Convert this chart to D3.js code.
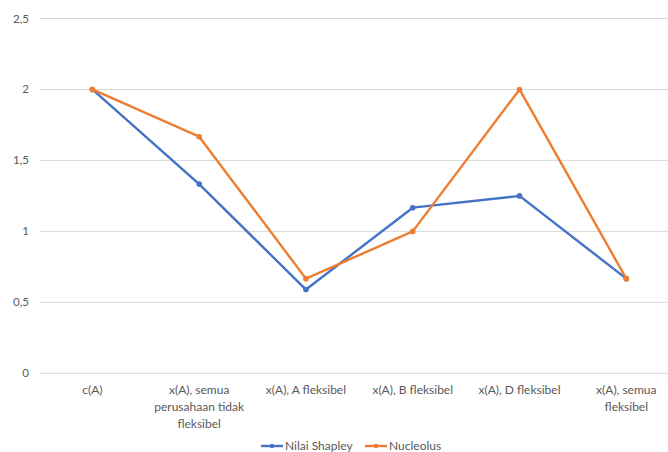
<!DOCTYPE html>
<html>
<head>
<meta charset="utf-8">
<script src="https://cdn.jsdelivr.net/npm/d3@7"></script>
<style>
  html, body { margin: 0; padding: 0; background: #fff; }
  svg { display: block; }
  text { font-family: "Lato", "Open Sans", sans-serif; fill: #595959; }
</style>
</head>
<body>
<svg id="chart" width="668" height="452"></svg>
<script>
// Categories along the x axis
const categories = [
  "c(A)",
  "x(A), semua perusahaan tidak fleksibel",
  "x(A), A fleksibel",
  "x(A), B fleksibel",
  "x(A), D fleksibel",
  "x(A), semua fleksibel"
];
// Series values
const shapley = [2, 1.333, 0.59, 1.167, 1.25, 0.667];
const nucleolus = [2, 1.667, 0.667, 1, 2, 0.667];
// Y-axis ticks
const yTicks = [0, 0.5, 1, 1.5, 2, 2.5];
const yTickLabels = ["0", "0,5", "1", "1,5", "2", "2,5"];

const series = [
  { name: "Nilai Shapley", values: shapley, color: "#4472C4" },
  { name: "Nucleolus", values: nucleolus, color: "#ED7D31" }
];

const svg = d3.select("#chart");
const W = 668, H = 452;
const plot = { left: 39, right: 679.7, top: 18.5, bottom: 373.3 };

const x = d3.scaleBand().domain(categories).range([plot.left, plot.right]);
const y = d3.scaleLinear().domain([0, 2.5]).range([plot.bottom, plot.top]);

// Horizontal gridlines
svg.append("g").selectAll("line").data(yTicks).join("line")
  .attr("x1", 40).attr("x2", W)
  .attr("y1", d => y(d)).attr("y2", d => y(d))
  .attr("stroke", "#d9d9d9").attr("stroke-width", 1);

// Y axis labels
svg.append("g").selectAll("text").data(yTicks).join("text")
  .attr("x", 29).attr("y", d => y(d))
  .attr("dy", "0.35em")
  .attr("text-anchor", "end")
  .attr("font-size", 11.5)
  .text((d, i) => yTickLabels[i]);

// X axis labels, wrapped to the band width
function wrap(sel, width) {
  sel.each(function(d) {
    const t = d3.select(this);
    const words = d.split(/\s+/);
    let line = [];
    let lines = [];
    const tmp = t.append("tspan");
    words.forEach(w => {
      line.push(w);
      tmp.text(line.join(" "));
      if (tmp.node().getComputedTextLength() > width && line.length > 1) {
        line.pop();
        lines.push(line.join(" "));
        line = [w];
      }
    });
    lines.push(line.join(" "));
    tmp.remove();
    lines.forEach((l, i) => {
      t.append("tspan").attr("x", t.attr("x")).attr("dy", i === 0 ? 0 : 16.8).text(l);
    });
  });
}

svg.append("g").selectAll("text").data(categories).join("text")
  .attr("x", d => x(d) + x.bandwidth() / 2)
  .attr("y", 394)
  .attr("text-anchor", "middle")
  .attr("font-size", 12)
  .call(wrap, 98);

// Lines and markers
const line = d3.line()
  .x((d, i) => x(categories[i]) + x.bandwidth() / 2)
  .y(d => y(d));

series.forEach(s => {
  const g = svg.append("g");
  g.append("path")
    .attr("d", line(s.values))
    .attr("fill", "none")
    .attr("stroke", s.color)
    .attr("stroke-width", 2.4)
    .attr("stroke-linejoin", "round")
    .attr("stroke-linecap", "round");
  g.selectAll("circle").data(s.values).join("circle")
    .attr("cx", (d, i) => x(categories[i]) + x.bandwidth() / 2)
    .attr("cy", d => y(d))
    .attr("r", 2.8)
    .attr("fill", s.color);
});

// Legend
const legendY = 446;
const legendItems = [
  { s: series[0], x0: 261, x1: 283, tx: 285 },
  { s: series[1], x0: 365, x1: 387, tx: 389 }
];
const lg = svg.append("g");
legendItems.forEach(it => {
  lg.append("line")
    .attr("x1", it.x0).attr("x2", it.x1)
    .attr("y1", legendY).attr("y2", legendY)
    .attr("stroke", it.s.color).attr("stroke-width", 2.4);
  lg.append("circle")
    .attr("cx", (it.x0 + it.x1) / 2).attr("cy", legendY)
    .attr("r", 2.2).attr("fill", it.s.color);
  lg.append("text")
    .attr("x", it.tx).attr("y", legendY).attr("dy", "0.35em")
    .attr("font-size", 12)
    .text(it.s.name);
});
</script>
</body>
</html>
